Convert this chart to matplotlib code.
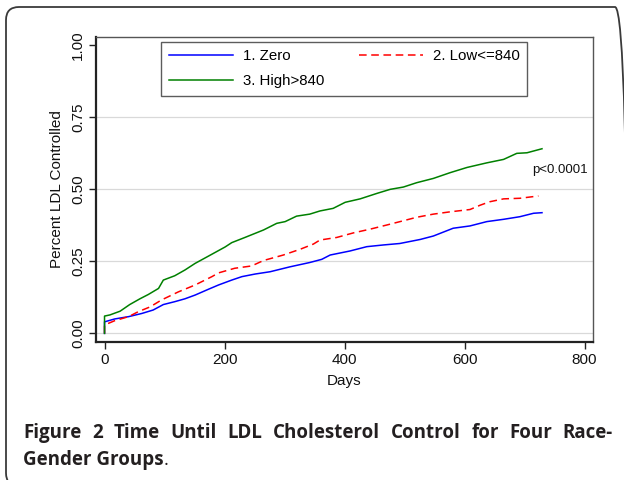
import matplotlib
matplotlib.use('Agg')
import matplotlib.pyplot as plt
from matplotlib.patches import FancyBboxPatch

# Kaplan-Meier style curves
zero_days = [0, 0, 17, 40, 62, 81, 98, 117, 134, 151, 173, 190, 212, 229, 251, 276,
             309, 342, 362, 376, 409, 437, 465, 492, 526, 548, 581, 609, 637, 665,
             692, 715, 729]
zero_vals = [0.0, 0.040, 0.050, 0.058, 0.069, 0.081, 0.100, 0.110, 0.120, 0.133, 0.153,
             0.168, 0.185, 0.197, 0.206, 0.214, 0.231, 0.246, 0.257, 0.272, 0.286, 0.301,
             0.307, 0.312, 0.326, 0.338, 0.365, 0.373, 0.388, 0.396, 0.405, 0.417, 0.419]

low_days = [0, 0, 17, 40, 56, 76, 95, 123, 151, 179, 190, 217, 245, 265, 298, 326, 348,
            359, 387, 415, 443, 470, 498, 520, 548, 576, 609, 626, 642, 665, 692, 723]
low_vals = [0.0, 0.029, 0.044, 0.058, 0.075, 0.092, 0.116, 0.144, 0.168, 0.197, 0.210,
            0.226, 0.234, 0.253, 0.272, 0.292, 0.310, 0.324, 0.333, 0.349, 0.362, 0.376,
            0.391, 0.403, 0.414, 0.422, 0.430, 0.445, 0.457, 0.467, 0.469, 0.477]

high_days = [0, 0, 9, 26, 42, 59, 73, 90, 98, 117, 134, 151, 173, 201, 212, 234, 265,
             287, 301, 320, 342, 359, 381, 401, 426, 454, 476, 498, 520, 548, 576, 604,
             637, 665, 687, 704, 729]
high_vals = [0.0, 0.060, 0.064, 0.077, 0.100, 0.120, 0.135, 0.156, 0.185, 0.200, 0.220,
             0.243, 0.268, 0.300, 0.315, 0.333, 0.359, 0.382, 0.388, 0.407, 0.414, 0.425,
             0.434, 0.455, 0.467, 0.486, 0.500, 0.508, 0.523, 0.538, 0.558, 0.576, 0.592,
             0.604, 0.625, 0.627, 0.641]

labels = ['1. Zero', '2. Low<=840', '3. High>840']
xticks = [0, 200, 400, 600, 800]
yticks = [0.0, 0.25, 0.5, 0.75, 1.0]
caption1 = 'Figure 2 Time Until LDL Cholesterol Control for Four Race-'
caption2 = 'Gender Groups'

plt.rcParams['font.family'] = ['Liberation Sans', 'DejaVu Sans']

W, H = 624, 480
fig = plt.figure(figsize=(W / 100, H / 100), dpi=100)
ax = fig.add_axes([96 / W, 1 - 342 / H, 497 / W, 305 / H])

# outer rounded frame (pixel -> inches)
frame = FancyBboxPatch((6 / 100, (H - 486) / 100), 622 / 100, 479 / 100,
                       boxstyle='round,pad=0,rounding_size=0.13',
                       transform=fig.dpi_scale_trans, fill=False,
                       edgecolor='#3a3a3a', lw=1.3, clip_on=False)
fig.patches.append(frame)

for y in [0.0, 0.25, 0.5, 0.75]:
    ax.axhline(y, color='#d9d9d9', lw=0.9, zorder=0)

l1, = ax.plot(zero_days, zero_vals, color='#0000ff', lw=1.1, label=labels[0])
l2, = ax.plot(low_days, low_vals, color='#ff0000', lw=1.1, dashes=(5, 3), label=labels[1])
l3, = ax.plot(high_days, high_vals, color='#008000', lw=1.1, label=labels[2])

ax.set_xlim(-14.2, 814)
ax.set_ylim(-0.030, 1.029)
ax.set_xticks(xticks)
ax.set_yticks(yticks)
ax.set_yticklabels(['%.2f' % v for v in yticks], rotation=90, va='center')
ax.tick_params(axis='both', length=5, width=1.0, labelsize=11, color='#222222',
               labelcolor='#111111', pad=3)

for s in ['left', 'bottom']:
    ax.spines[s].set_linewidth(1.6)
    ax.spines[s].set_color('#222222')
for s in ['top', 'right']:
    ax.spines[s].set_linewidth(1.0)
    ax.spines[s].set_color('#555555')

ax.set_xlabel('Days', fontsize=11, labelpad=5, color='#111111')
ax.set_ylabel('Percent LDL Controlled', fontsize=11, labelpad=5, color='#111111')

ax.text(712, 0.567, 'p<0.0001', fontsize=9.5, ha='left', va='center', color='#111111')

leg = ax.legend([l1, l3, l2], [labels[0], labels[2], labels[1]], ncol=2,
                loc='upper left', bbox_to_anchor=(0.131, 0.984),
                fontsize=10.8, frameon=True, fancybox=False,
                handlelength=4.3, handletextpad=0.65, borderpad=0.5,
                labelspacing=0.72, columnspacing=2.3, borderaxespad=0)
leg.get_frame().set_edgecolor('#333333')
leg.get_frame().set_linewidth(1.0)

# caption, first line justified between x=23 and x=613 px
cap = dict(family=['Open Sans', 'DejaVu Sans'], color='#231f20', fontsize=13.5,
           va='center', ha='left')
renderer = fig.canvas.get_renderer()
words = caption1.split(' ')
arts = [fig.text(0, 1 - 433 / H, w, fontweight='bold', **cap) for w in words]
widths = [a.get_window_extent(renderer).width for a in arts]
gap = (613 - 23 - sum(widths)) / (len(words) - 1)
x = 23
for a, w in zip(arts, widths):
    a.set_x(x / W)
    x += w + gap

t = fig.text(23 / W, 1 - 460 / H, caption2, fontweight='bold', **cap)
bb = t.get_window_extent(renderer)
fig.text(bb.x1 / W, 1 - 460 / H, '.', **cap)

fig.savefig('out.png', dpi=100)
